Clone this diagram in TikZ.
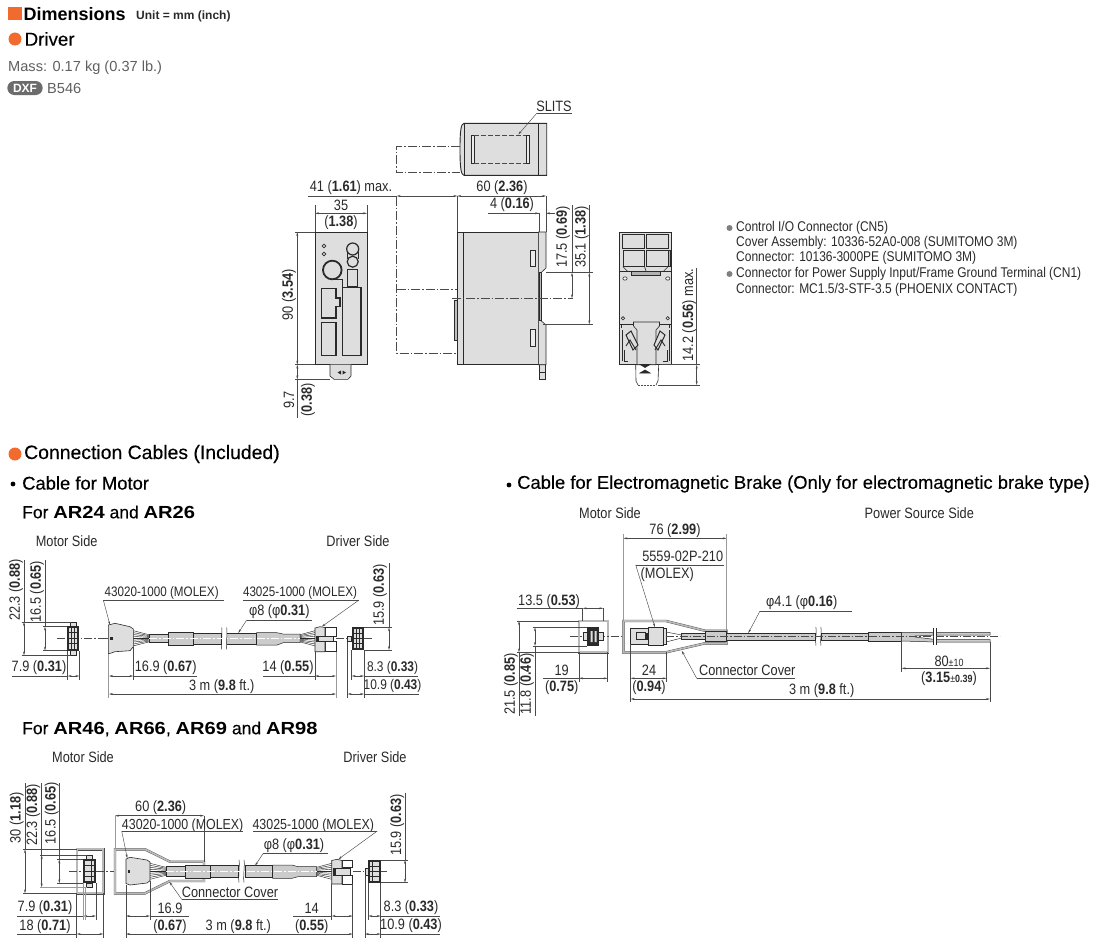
\documentclass[tikz,border=0pt]{standalone}
\usepackage{fontspec}
\usetikzlibrary{arrows.meta}
\setmainfont{Liberation Sans}
\newfontfamily\dimf[FakeStretch=0.85]{Liberation Sans}
\newfontfamily\headf[FakeBold=0.25]{Liberation Sans}
\newfontfamily\wideb[FakeStretch=1.15]{Liberation Sans}
\definecolor{orng}{HTML}{F26A2E}
\definecolor{fillg}{HTML}{DEDEDE}
\definecolor{inkk}{HTML}{2A2A2A}
\definecolor{thinc}{HTML}{4A4A4A}
\definecolor{bordg}{HTML}{9A9A9A}
\definecolor{txtg}{HTML}{2A2A2A}
\tikzset{
  dimtext/.style={inner sep=0pt,text=txtg,font=\dimf\fontsize{15}{17}\selectfont},
  headtext/.style={inner sep=0pt,anchor=west,text=black,font=\headf\fontsize{19.4}{22}\selectfont},
  subtext/.style={inner sep=0pt,anchor=west,text=black,font=\headf\fontsize{18.4}{21}\selectfont},
  fortext/.style={inner sep=0pt,anchor=west,text=black,font=\headf\fontsize{17.5}{20}\selectfont},
  smalltext/.style={inner sep=0pt,anchor=west,text=gray!75!black,font=\fontsize{14.6}{17}\selectfont},
  notetext/.style={inner sep=0pt,anchor=west,text=txtg,font=\dimf\fontsize{14.1}{16}\selectfont},
  thinl/.style={draw=thinc,line width=0.45pt},
  dimarr/.style={draw=thinc,line width=0.45pt,{Stealth[length=4pt,width=2pt]}-{Stealth[length=4pt,width=2pt]}},
  tiparr/.style={draw=thinc,line width=0.45pt,-{Stealth[length=4pt,width=2pt]}},
  bodyl/.style={draw=inkk,fill=fillg,line width=0.9pt},
  boldl/.style={draw=inkk,line width=1.4pt},
  partl/.style={draw=inkk,line width=0.6pt},
  wire/.style={draw=inkk,line width=0.45pt},
  covr/.style={draw=thinc,line width=0.35pt,double=gray!55,double distance=1.7pt,fill=white},
  centerl/.style={draw=thinc,line width=0.4pt,dash pattern=on 8pt off 2pt on 1.5pt off 2pt},
  phant/.style={draw=thinc,line width=0.5pt,dash pattern=on 9pt off 2pt on 1.5pt off 2pt},
  tube/.style={draw=inkk,fill=fillg!80!gray,line width=0.5pt},
}
\newcommand\tx[3]{\node[dimtext] (#1) at (#2) {#3};}
\newcommand\rx[3]{\node[dimtext,rotate=90] (#1) at (#2) {#3};}
\newcommand\hd[3]{\draw[dimarr] (#1,#3) -- (#2,#3);}
\newcommand\vd[3]{\draw[dimarr] (#3,#1) -- (#3,#2);}
\newcommand\seg[2]{\draw[thinl] (#1) -- (#2);}
\newcommand\tipl[2]{\draw[tiparr] (#1) -- (#2);}
\newcommand\B[1]{\textbf{#1}}
\newcommand\AR[1]{{\wideb\bfseries #1}}
\newcommand\fs[1]{\fontsize{#1}{17}\selectfont}
\newcommand\brk[3]{% x, ytop, ybottom: cable break
  \fill[white] (#1-2.5,#2) rectangle (#1+2.5,#3);
  \draw[inkk,line width=0.5pt] (#1-2.5,#2) .. controls (#1-1.5,#2+6) and (#1-3.5,#3-6) .. (#1-2.5,#3);
  \draw[inkk,line width=0.5pt] (#1+2.5,#2) .. controls (#1+3.5,#2+6) and (#1+1.5,#3-6) .. (#1+2.5,#3);
}
\newcommand\grid[4]{% x1 y1 x2 y2: dark connector face
  \fill[inkk] (#1,#2) rectangle (#3,#4);
  \foreach \gi in {0,1,2}{\foreach \gj in {0,1,2,3}{
    \fill[fillg] ({#1+1.5+\gi*(#3-#1-3)/3+0.3},{#2+1.5+\gj*(#4-#2-3)/4+0.3}) rectangle ++({(#3-#1-3)/3-0.8},{(#4-#2-3)/4-0.9});
  }}
}
\begin{document}
\begin{tikzpicture}[x=1pt,y=-1pt]
\useasboundingbox (0,0) rectangle (1100,950);
\fill[white] (0,0) rectangle (1100,950);

% ---------- headings
\fill[orng] (8.3,6.7) rectangle (21.7,20);
\node[inner sep=0pt,anchor=west,font=\bfseries\fontsize{18}{20}\selectfont] (hdim) at (23.5,14) {Dimensions};
\node[inner sep=0pt,anchor=west,text=txtg,font=\bfseries\fontsize{12}{14}\selectfont] (hunit) at (136,16) {Unit = mm (inch)};
\fill[orng] (15,39) circle (6.5);
\node[headtext,font=\headf\fontsize{18.7}{21}\selectfont] (hdrv) at (24.5,39) {Driver};
\node[smalltext] (mass) at (8,68) {Mass: 0.17 kg (0.37 lb.)};
\fill[gray!85!black,rounded corners=7pt] (7.3,81) rectangle (42.7,95);
\node[inner sep=0pt,text=white,font=\bfseries\fontsize{12}{14}\selectfont] (dxf) at (25,88) {DXF};
\node[smalltext] (b546) at (47,88) {B546};

\fill[orng] (15,454) circle (6.5);
\node[headtext] (hcab) at (24,454) {Connection Cables (Included)};
\fill[black] (13,484) circle (2.4);
\node[subtext] (c1) at (22,483) {Cable for Motor};
\node[fortext] (c2) at (22,512) {For \AR{AR24} and \AR{AR26}};
\node[fortext] (c3) at (22,729) {For \AR{AR46}, \AR{AR66}, \AR{AR69} and \AR{AR98}};
\fill[black] (509,485) circle (2.4);
\node[subtext] (c4) at (517,484) {Cable for Electromagnetic Brake (Only for electromagnetic brake type)};

% ---------- DRIVER: top view
\draw[bodyl] (464,123.3) .. controls (461,124) and (460,130) .. (460,149) .. controls (460,168) and (461,175) .. (464,175.3) -- (546.7,175.3) -- (546.7,123.3) -- cycle;
\draw[partl] (464,123.3) -- (464,175.3);
\draw[partl] (538.7,123.3) -- (538.7,175.3);
\draw[partl,fill=white!40!fillg] (471.7,135) rectangle (474.3,163.3);
\draw[partl,fill=white!40!fillg] (526,135) rectangle (529.3,163.3);
\draw[thinl,dash pattern=on 5pt off 2pt] (474.3,135) -- (526,135);
\draw[thinl,dash pattern=on 5pt off 2pt] (474.3,163.3) -- (526,163.3);
\draw[phant] (460,146) -- (396.7,146) -- (396.7,172.7) -- (460,172.7);
\node[dimtext] (slits) at (554,106.5) {SLITS};
\seg{536.7,113.3}{571.7,113.3}
\tipl{536.7,113.3}{518.3,134.5}

% ---------- DRIVER: front-left view
\draw[bodyl] (315,232) rectangle (367,364.7);
\draw[partl,fill=fillg] (330,364.7) -- (330,376) -- (334,379.3) -- (348,379.3) -- (351,376) -- (351,364.7);
\fill[inkk] (337.5,372.5) -- (341,370.5) -- (341,374.5) -- cycle;
\fill[inkk] (346,372.5) -- (342.5,370.5) -- (342.5,374.5) -- cycle;
\draw[partl] (324,246) circle (1.9) (324,254) circle (1.9);
\draw[draw=inkk,line width=1.2pt,fill=fillg] (352.7,249) circle (6);
\draw[draw=inkk,line width=1.2pt,fill=fillg] (352.7,261.7) circle (5.5);
\draw[partl] (347,252) -- (347,259) (358.5,252) -- (358.5,259);
\draw[draw=inkk,line width=1.8pt,fill=fillg] (332.3,270) circle (9.3);
\draw[partl] (347.3,269) rectangle (357.3,286.7);
\draw[partl] (332.3,279.5) -- (342.3,279.5) -- (342.3,287.3);
\draw[boldl] (342.3,287.3) rectangle (361,355.3);
\draw[boldl] (321.3,288.3) -- (336,288.3) -- (336,298) -- (340,298) -- (340,306.7) -- (336,306.7) -- (336,318) -- (321.3,318) -- cycle;
\draw[boldl] (321.3,322.3) rectangle (336,355.3);
\hd{315}{367}{213.3}
\seg{315,205}{315,232} \seg{367,205}{367,232}
\tx{t35}{341,205}{35}
\tx{t138}{341,223}{(\B{1.38})}
\vd{232}{364.7}{297.3}
\seg{295,232}{315,232} \seg{295,364.7}{315,364.7}
\rx{t90}{289,295}{90 (\B{3.54})}
\vd{364.7}{379.3}{297.3}
\seg{297.3,379.3}{297.3,418}
\seg{295,379.3}{330,379.3}
\rx{t97}{289,400}{9.7}
\rx{t038}{308,400}{(\B{0.38})}

% ---------- DRIVER: side view
\draw[partl,fill=fillg] (539.5,364.7) rectangle (545.3,379.3);
\draw[partl] (539.5,372) -- (545.3,372);
\draw[bodyl] (457.3,232) -- (538.3,232) -- (538.3,364.7) -- (457.3,364.7) -- cycle;
\draw[partl,fill=fillg] (538.3,232) -- (546,232) -- (546,268) -- (541,272.7) -- (541,320.7) -- (546,325) -- (546,364.7) -- (538.3,364.7) -- cycle;
\draw[partl,fill=gray!55] (539,272.7) rectangle (541,320.7);
\draw[partl] (463.3,232) -- (463.3,364.7);
\draw[partl,fill=gray!50] (454.7,300.7) rectangle (457.3,340.7);
\draw[partl,fill=white!40!fillg] (530.3,250) rectangle (535,266);
\draw[partl,fill=white!40!fillg] (530.3,329.3) rectangle (535,346.7);
\draw[phant] (396.7,196.7) -- (396.7,353.3) -- (457.3,353.3);
\draw[phant] (396.7,289.3) -- (457.3,289.3);
\draw[phant] (451.7,298.3) -- (573.3,298.3);
\hd{396.7}{457.3}{196}
\hd{457.3}{546}{196}
\seg{308,196}{396.7,196}
\tx{t41}{351,187.5}{41 (\B{1.61}) max.}
\tx{t60}{502,187.5}{60 (\B{2.36})}
\seg{457.3,196}{457.3,232} \seg{546,196}{546,232}
\seg{488,213.3}{539,213.3}
\draw[tiparr] (530,213.3) -- (539,213.3);
\draw[tiparr] (555,213.3) -- (546,213.3);
\seg{539,213.3}{539,232}
\tx{t4}{512,205}{4 (\B{0.16})}
\vd{272.7}{298.3}{572}
\seg{572,205}{572,272.7}
\rx{t175}{563,237}{17.5 (\B{0.69})}
\vd{272.7}{324.3}{589.3}
\seg{589.3,205}{589.3,272.7}
\rx{t351}{581.7,237}{35.1 (\B{1.38})}
\seg{546,272.7}{593,272.7}
\seg{543,324.3}{593,324.3}

% ---------- DRIVER: rear view
\draw[bodyl] (619.3,232) rectangle (671.3,364.7);
\draw[partl,fill=fillg] (622.7,234.3) rectangle (644,248);
\draw[partl,fill=fillg] (646.3,234.3) rectangle (668.3,248);
\draw[partl,line width=1pt,fill=fillg] (623,250) rectangle (644.6,266.7);
\draw[partl,line width=1pt,fill=fillg] (646.3,250) rectangle (668,266.7);
\draw[partl] (623,266.7) -- (628,271.7) (668,266.7) -- (663,271.7) (644.6,266.7) -- (646.3,271.7);
\draw[partl,fill=gray!60] (668,250) rectangle (670,266.7);
\draw[partl] (619.3,271.7) -- (671.3,271.7);
\draw[partl,fill=gray!60] (631,271.7) -- (660,271.7) -- (660,275) -- (631,275) -- cycle;
\draw[partl,fill=white,rounded corners=1pt] (623,277) rectangle (627,280);
\draw[partl,fill=white,rounded corners=1pt] (665.7,277) rectangle (669.7,280);
\draw[partl] (623,318.3) circle (1.7) (667.7,318.3) circle (1.7);
\draw[partl,line width=0.9pt] (619.3,324.3) -- (633,324.3) (660,324.3) -- (671.3,324.3);
\draw[partl] (635.7,364.7) -- (636,381) -- (638,385) (658.7,364.7) -- (658,381) -- (656,385);
\draw[thinl,dash pattern=on 2pt off 1pt] (638,385) -- (656,385);
\draw[partl,fill=fillg] (633.5,322) -- (659.5,322) -- (659.5,326) -- (656,330) -- (656,364.7) -- (637,364.7) -- (637,330) -- (633.5,326) -- cycle;
\draw[draw=inkk,line width=1pt,fill=fillg] (626,335) -- (631,331) -- (638,345) -- (633,350) -- cycle;
\draw[draw=inkk,line width=1pt,fill=fillg] (665,335) -- (660,331) -- (654,345) -- (658,350) -- cycle;
\draw[partl,line width=0.9pt] (626,346) -- (630,340) -- (636,350) (665,346) -- (661,340) -- (655,350);
\draw[partl] (622,330) -- (622,361) (669,330) -- (669,361);
\draw[partl,line width=0.9pt] (624,350) -- (624,361) -- (628,361) (667,350) -- (667,361) -- (663,361);
\draw[partl] (621,324.3) -- (621,328) (669,324.3) -- (669,328);
\draw[partl,fill=inkk] (640,364.5) -- (650,364.5) -- (645,367.5) -- cycle;
\draw[partl,fill=inkk] (640,373) -- (650,373) -- (645,370) -- cycle;
\vd{364.7}{385}{696.7}
\seg{660,364.7}{700,364.7}
\seg{658,385}{700,385}
\seg{696.7,268}{696.7,364.7}
\rx{t142}{689.3,315}{14.2 (\B{0.56}) max.}

% ---------- connector notes
\fill[gray] (729.5,228) circle (3);
\fill[gray] (729.5,274) circle (3);
\node[notetext] (n1a) at (736,228) {Control I/O Connector (CN5)};
\node[notetext] (n2) at (736,243) {Cover Assembly: 10336-52A0-008 (SUMITOMO 3M)};
\node[notetext] (n3) at (736,258) {Connector: 10136-3000PE (SUMITOMO 3M)};
\node[notetext] (n4) at (736,274) {Connector for Power Supply Input/Frame Ground Terminal (CN1)};
\node[notetext] (n5) at (736,290) {Connector: MC1.5/3-STF-3.5 (PHOENIX CONTACT)};

% ---------- CABLE 1 (AR24/AR26)
\tx{m1}{66.7,541}{Motor Side}
\tx{d1}{358,541}{Driver Side}
\draw[centerl] (57,638.3) -- (103,638.3);
\draw[partl,fill=fillg] (70.7,622) rectangle (76,626) (70.7,650.7) rectangle (76,655.3);
\grid{67.3}{626}{79.3}{650.7}
\vd{622}{655.3}{24}
\seg{21.7,622}{70.7,622} \seg{21.7,655.3}{70.7,655.3}
\seg{24,560}{24,622}
\rx{t223}{16,590}{22.3 (\B{0.88})}
\vd{626.7}{650.7}{45}
\seg{43,626.7}{67.3,626.7} \seg{43,650.7}{67.3,650.7}
\seg{45,560}{45,626.7}
\rx{t165}{37,591.7}{16.5 (\B{0.65})}
\hd{67.7}{79.3}{676}
\seg{12,676}{67.7,676}
\seg{67.7,651}{67.7,680} \seg{79.3,651}{79.3,680}
\tx{t79}{39,668}{7.9 (\B{0.31})}
% cable body
\draw[tube] (168,632.7) rectangle (193.3,645);
\draw[tube] (193.3,633.5) rectangle (221.7,644);
\draw[tube] (226.7,633.5) rectangle (256.7,644);
\draw[tube] (256.7,632.7) -- (277,632.7) .. controls (280,634) and (280,634) .. (283,634) -- (300,634) -- (300,642.7) -- (283,642.7) .. controls (280,643) and (280,645) .. (277,645) -- (256.7,645) -- cycle;
\draw[tube] (149,634) rectangle (168,642.7);
\draw[inkk,line width=0.6pt] (193.3,632.7) -- (193.3,645) (256.7,632.7) -- (256.7,645);
\foreach \k in {-4,...,4}{
  \draw[wire] (133.3,{638.3+\k*1.9}) -- (149,{638.3+\k*0.9});
  \draw[wire] (315,{638.3+\k*1.9}) -- (300,{638.3+\k*0.9});
}
\draw[partl,fill=fillg] (108.3,625) -- (115,623.3) -- (130,626.7) -- (133.3,629) -- (133.3,646.7) -- (130,650.7) -- (115,651.7) -- (108.3,654) -- cycle;
\draw[partl] (325,627.3) rectangle (336,636) (325,641.7) rectangle (336,651);
\draw[partl,fill=fillg] (315,628) -- (320,626.7) -- (325,627.5) -- (325,651.7) -- (315,651.7) -- cycle;
\draw[partl,fill=fillg] (318,636) rectangle (333,641.7);
\fill[inkk] (316,635.5) rectangle (319,642);
\brk{224.2}{627.7}{649.3}
\draw[centerl,draw=white] (149,638.3) -- (300,638.3);
\draw[centerl] (336,638.3) -- (347.7,638.3);
\draw[centerl] (103,638.3) -- (108.3,638.3);
\fill[inkk] (110,637.3) rectangle (112.5,639.7);
\draw[partl,fill=fillg] (347.7,636) rectangle (351.7,641.7);
\grid{351.7}{627.3}{364}{650}
\draw[centerl] (364,638.3) -- (371.7,638.3);
\vd{627.3}{650}{389}
\seg{364,627.3}{391.7,627.3} \seg{364,650}{391.7,650}
\seg{389,563}{389,627.3}
\rx{t159}{380,595}{15.9 (\B{0.63})}
\tx{l1}{161.7,592.7}{\fs{13.7}43020-1000 (MOLEX)}
\seg{103.3,600}{224,600}
\tipl{103.3,600}{110,625}
\tx{l2}{300,592.7}{\fs{13.7}43025-1000 (MOLEX)}
\seg{243,600}{359,600}
\tipl{359,600}{321.7,626.7}
\tx{l3}{279.3,611.7}{φ8 (φ\B{0.31})}
\seg{246.7,620}{311.7,620}
\tipl{246.7,620}{238.3,633}
\hd{109}{133.3}{676}
\seg{133.3,676}{196.7,676}
\tx{t169}{165.7,668}{16.9 (\B{0.67})}
\hd{315}{336}{676}
\seg{263.3,676}{315,676}
\tx{t14}{288,668}{14 (\B{0.55})}
\hd{109}{336}{694}
\tx{t3m}{221.7,686.5}{3 m (\B{9.8} ft.)}
\hd{351.7}{364}{676}
\seg{364,676}{418,676}
\tx{t83}{392.5,668}{\fs{14}8.3 (\B{0.33})}
\hd{347.7}{364}{694}
\seg{364,694}{419,694}
\tx{t109}{392.5,685.5}{\fs{14}10.9 (\B{0.43})}
\draw[bordg,line width=0.8pt] (108.7,654) -- (108.7,698);
\seg{133.3,647}{133.3,680}
\seg{315,652}{315,680}
\draw[bordg,line width=0.8pt] (336,652) -- (336,698);
\seg{351.7,650}{351.7,680}
\seg{364,650}{364,698}
\seg{347.7,642}{347.7,698}

% ---------- CABLE 2 (AR46...)
\tx{m2}{83,757}{Motor Side}
\tx{d2}{375,757}{Driver Side}
\draw[covr] (76.7,849.3) rectangle (103.3,893.3);
\draw[centerl] (69.3,871.3) -- (115,871.3);
\draw[partl,fill=fillg] (86.7,855) rectangle (92.7,859.3) (86.7,883.3) rectangle (92.7,887.3);
\grid{83.3}{859.3}{96}{883.3}
\vd{849.3}{893.3}{25}
\seg{23,849.3}{76.7,849.3}\seg{23,893.3}{76.7,893.3}
\seg{25,783}{25,849.3}
\rx{t30}{16.7,818}{30 (\B{1.18})}
\vd{855}{887.3}{41.7}
\seg{39.5,855}{86.7,855}
\draw[bordg,line width=0.8pt] (39.5,887.3) -- (86.7,887.3);
\seg{41.7,783}{41.7,855}
\rx{t223b}{33.3,815}{22.3 (\B{0.88})}
\vd{859.3}{883.3}{59.3}
\seg{57,859.3}{83.3,859.3}\seg{57,883.3}{83.3,883.3}
\seg{59.3,783}{59.3,859.3}
\rx{t165b}{51.7,813.3}{16.5 (\B{0.65})}
\hd{83.3}{96}{916}
\seg{17,916}{83.3,916}
\tx{t79b}{45,908}{7.9 (\B{0.31})}
\hd{76.7}{103.3}{934}
\seg{17,934}{76.7,934}
\tx{t18}{45,926.5}{18 (\B{0.71})}
\draw[bordg,line width=0.8pt] (83.3,883) -- (83.3,920) (85,887) -- (85,920);
\seg{96,883.3}{96,920}
\seg{76.7,893.3}{76.7,938} \seg{103.3,893.3}{103.3,938}
% cover
\draw[covr] (115,849.3) -- (145,849.3) -- (170,861.7) -- (204,861.7) -- (204,881) -- (170,881) -- (145,893.3) -- (115,893.3) -- cycle;
\draw[tube] (185,865) rectangle (210,878.3);
\draw[tube] (166,866.7) rectangle (185,876.7);
\draw[tube] (210,865.7) rectangle (238.3,877.7);
\draw[tube] (245,865.7) rectangle (272.7,877.7);
\draw[tube] (272.7,865) -- (292,865) .. controls (295,866.5) .. (298,866.7) -- (316.7,866.7) -- (316.7,876.7) -- (298,876.7) .. controls (295,877) .. (292,878.3) -- (272.7,878.3) -- cycle;
\draw[inkk,line width=0.6pt] (210,865) -- (210,878.3) (272.7,865) -- (272.7,878.3);
\foreach \k in {-4,...,4}{
  \draw[wire] (150,{871.3+\k*2}) -- (166,{871.3+\k*1});
  \draw[wire] (331.7,{871.3+\k*2}) -- (316.7,{871.3+\k*1});
}
\draw[partl,fill=fillg] (126,859) -- (130,857.3) -- (147,860) -- (150,862) -- (150,880.7) -- (147,883) -- (130,885) -- (126,883.5) -- cycle;
\draw[partl] (342,860.5) rectangle (352.7,867.5) (342,875.5) rectangle (352.7,884);
\draw[partl,fill=fillg] (331.7,860.5) -- (337,859.3) -- (342,860.5) -- (342,884) -- (331.7,884) -- cycle;
\draw[partl,fill=fillg] (335,868) rectangle (350,875);
\fill[inkk] (332.7,867.5) rectangle (335.7,875.5);
\brk{241.5}{860}{882.5}
\draw[centerl,draw=white] (166,871.3) -- (316.7,871.3);
\fill[inkk] (127.5,870) rectangle (130,872.5);
\draw[centerl] (352.7,871.3) -- (365,871.3);
\draw[partl,fill=fillg] (365,868.3) rectangle (368.3,875);
\grid{368.3}{860}{380.7}{882.7}
\draw[centerl] (380.7,871.3) -- (386.7,871.3);
\vd{860}{882.7}{405}
\seg{380.7,860}{407.5,860}\seg{380.7,882.7}{407.5,882.7}
\seg{405,792.7}{405,860}
\rx{t159b}{397.3,825}{15.9 (\B{0.63})}
\hd{115}{204}{815.7}
\tx{t60b}{160.7,807.7}{60 (\B{2.36})}
\draw[bordg,line width=0.8pt] (115,815.7) -- (115,849.3);
\seg{204,815.7}{204,861.7}
\tx{l1b}{182.7,825.7}{\fs{14.6}43020-1000 (MOLEX)}
\seg{121.7,831}{243,831}
\tipl{121.7,831}{127.3,858.3}
\tx{l2b}{313.3,825.7}{\fs{14.6}43025-1000 (MOLEX)}
\seg{253,831}{377.3,831}
\tipl{377.3,831}{338.3,859.3}
\tx{l3b}{294,846}{φ8 (φ\B{0.31})}
\seg{263.3,853.3}{328.3,853.3}
\tipl{263.3,853.3}{255,865.7}
\tx{l4b}{230,892.7}{Connector Cover}
\seg{181.7,899.3}{278.3,899.3}
\tipl{181.7,899.3}{169.3,881.7}
\hd{126}{150}{916}
\seg{150,916}{189.3,916}
\tx{t169b}{170,908.5}{16.9}
\tx{t067b}{170,926.5}{(\B{0.67})}
\hd{331.7}{352.7}{916}
\seg{293.3,916}{331.7,916}
\tx{t14b}{311.7,908.5}{14}
\tx{t055b}{311.7,926.5}{(\B{0.55})}
\hd{126}{352.7}{934}
\tx{t3mb}{238.3,926.5}{3 m (\B{9.8} ft.)}
\hd{368.3}{380.7}{916}
\seg{380.7,916}{440,916}
\tx{t83b}{411,907.5}{8.3 (\B{0.33})}
\hd{365}{380.7}{934}
\seg{380.7,934}{440,934}
\tx{t109b}{411,926}{10.9 (\B{0.43})}
\seg{126,885}{126,938}
\seg{150,881}{150,920}
\seg{331.7,884}{331.7,920}
\seg{352.7,884}{352.7,938}
\seg{368.3,882.7}{368.3,920}
\seg{380.7,882.7}{380.7,938}
\seg{365,875}{365,938}

% ---------- CABLE 3 (brake)
\tx{m3}{610,512.7}{Motor Side}
\tx{p3}{919.3,512.7}{Power Source Side}
\draw[covr] (579,621) rectangle (607.7,652.3);
\draw[centerl] (570,636) -- (623.3,636);
\draw[partl,fill=fillg] (583.5,632.5) rectangle (603.5,640);
\fill[inkk] (587.3,627.3) rectangle (599.3,646);
\fill[fillg] (590.5,631) rectangle (592.5,642) (594.5,631) rectangle (596.5,642);
\hd{582.7}{603.3}{608.3}
\seg{516.7,608.3}{582.7,608.3}
\seg{582.7,608.3}{582.7,621} \seg{603.3,608.3}{603.3,621}
\tx{t135}{549,601.5}{13.5 (\B{0.53})}
\vd{621}{652.3}{519}
\seg{517,621}{579,621}\seg{517,652.3}{579,652.3}
\seg{519,652.3}{519,716}
\rx{t215}{511,684}{21.5 (\B{0.85})}
\vd{627.3}{646}{535}
\seg{533,627.3}{587.3,627.3}\seg{533,646}{587.3,646}
\seg{535,646}{535,716}
\rx{t118}{527,684}{11.8 (\B{0.46})}
\hd{579}{607.7}{678.3}
\seg{543.3,678.3}{579,678.3}
\seg{579,652.3}{579,682}\seg{607.7,652.3}{607.7,682}
\tx{t19}{561.7,670}{19}
\tx{t075}{561.7,687.3}{(\B{0.75})}
\draw[covr] (623.3,621) -- (666,621) -- (705,630.7) -- (726.7,630.7) -- (726.7,643.3) -- (705,643.3) -- (666,652.3) -- (623.3,652.3) -- cycle;
\draw[tube] (705,631.7) rectangle (726.7,641.7);
\draw[tube] (681.7,633) rectangle (705,639.3);
\draw[tube] (726.7,633.3) rectangle (815,640);
\draw[tube] (821.7,633.3) rectangle (868.3,640);
\draw[tube] (868.3,632.3) rectangle (901.7,641);
\draw[wire] (666,632) -- (681.7,635) (666,642) -- (681.7,638);
\draw[partl,fill=fillg] (630,628.3) -- (666,628.3) -- (666,644) -- (630,644) -- cycle;
\draw[partl,fill=fillg] (648,627) rectangle (663,645);
\fill[inkk] (645,632.7) rectangle (648,639.5);
\draw[partl] (636,632.7) rectangle (645,639.5);
% forked wires
\draw[tube] (901.7,632.3) -- (936,632.3) -- (990,632.3) -- (990,635) -- (937,635) -- (915,636) -- (915,637) -- (937,639.7) -- (990,639.7) -- (990,642) -- (936,642) -- (901.7,641) -- cycle;
\fill[white] (932.7,628) rectangle (937,645);
\draw[inkk,line width=0.5pt] (933,628) -- (933,645) (936.5,628) -- (936.5,645);
\brk{818.4}{627}{645.5}
\draw[centerl] (666,636) -- (1000,636);
\tx{t76}{675,530.7}{76 (\B{2.99})}
\hd{623.3}{726.7}{538.3}
\draw[bordg,line width=0.8pt] (623.3,534) -- (623.3,621) (726.7,534) -- (726.7,630.7);
\tx{l1c}{682.7,556.7}{5559-02P-210}
\seg{635.7,565}{724,565}
\tx{l1d}{667.3,575}{(MOLEX)}
\tipl{635.7,565}{655,627.3}
\tx{l3c}{801.7,602.3}{φ4.1 (φ\B{0.16})}
\seg{760,611}{851.7,611}
\tipl{760,611}{748.3,633}
\tx{l4c}{747.3,670}{Connector Cover}
\seg{696.7,678.3}{795,678.3}
\tipl{696.7,678.3}{681.7,650.7}
\hd{630.7}{666.7}{678.3}
\tx{t24}{649,670.7}{24}
\tx{t094}{649,687.3}{(\B{0.94})}
\hd{630.7}{990}{699}
\tx{t3mc}{821.7,691}{3 m (\B{9.8} ft.)}
\seg{630.7,644}{630.7,702}
\seg{666.7,652}{666.7,682}
\seg{990,642}{990,702}
\hd{901.7}{990}{668.3}
\seg{901.7,641}{901.7,672}
\tx{t80}{949,661}{80{\fs{10.5}±10}}
\tx{t315}{949,678.3}{(\B{3.15}{\fs{10.5}±\B{0.39}})}
\end{tikzpicture}
\end{document}
